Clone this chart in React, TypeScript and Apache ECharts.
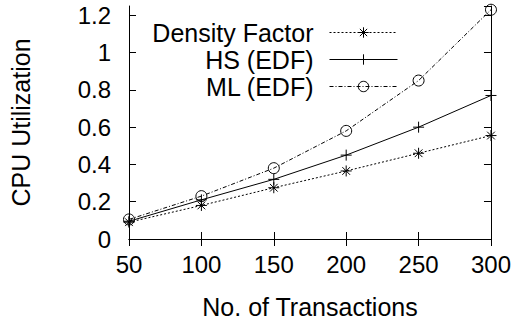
import React, { useEffect, useRef } from "react";
import * as echarts from "echarts";

const transactions = [50, 100, 150, 200, 250, 300];
const densityFactor = [0.09, 0.18, 0.275, 0.365, 0.46, 0.555];
const hsEdf = [0.095, 0.21, 0.32, 0.45, 0.6, 0.77];
const mlEdf = [0.105, 0.23, 0.38, 0.58, 0.85, 1.23];
const seriesNames = ["Density Factor", "HS (EDF)", "ML (EDF)"];

const ASTERISK = "path://M0 5L10 5M5 0L5 10M1.5 1.5L8.5 8.5M1.5 8.5L8.5 1.5";
const PLUS = "path://M0 5L10 5M5 0L5 10";
const FONT = "Liberation Sans, Arial, sans-serif";

export default function App() {
  const ref = useRef<HTMLDivElement>(null);
  useEffect(() => {
    const chart = echarts.init(ref.current!, null, { renderer: "svg" });
    const pts = (ys: number[]) => transactions.map((x, i) => [x, ys[i]]);
    const mk = (name: string, ys: number[], symbol: string, dash: any) => ({
      name,
      type: "line",
      data: pts(ys),
      symbol,
      symbolSize: 11,
      showSymbol: true,
      lineStyle: { color: "#000", width: 1, type: dash },
      itemStyle: { color: "rgba(0,0,0,0)", borderColor: "#000", borderWidth: 1 },
      emphasis: { disabled: true },
      z: 3,
    });
    const tickLabel = { color: "#000", fontFamily: FONT, fontSize: 24 };
    chart.setOption({
      animation: false,
      backgroundColor: "#fff",
      grid: { left: 128, right: 23, top: 6, bottom: 79, containLabel: false },
      legend: {
        data: seriesNames,
        orient: "vertical",
        align: "right",
        right: 116,
        top: 20,
        padding: 0,
        itemWidth: 68,
        itemHeight: 13,
        itemGap: 2,
        selectedMode: false,
        textStyle: {
          color: "#000",
          fontFamily: FONT,
          fontSize: 25,
          lineHeight: 20,
          padding: [0, 11, 0, 0],
        },
        lineStyle: { width: 1 },
        itemStyle: { borderWidth: 1 },
      },
      xAxis: [
        {
          type: "value",
          min: 50,
          max: 300,
          interval: 50,
          position: "bottom",
          name: "No. of Transactions",
          nameLocation: "middle",
          nameGap: 55,
          nameTextStyle: { color: "#000", fontFamily: FONT, fontSize: 25 },
          axisLine: { show: true, lineStyle: { color: "#000", width: 1 } },
          axisTick: { show: true, inside: true, length: 7, lineStyle: { color: "#000" } },
          axisLabel: { ...tickLabel, margin: 13 },
          splitLine: { show: false },
        },
        {
          type: "value",
          min: 50,
          max: 300,
          interval: 50,
          position: "top",
          axisLine: { show: true, lineStyle: { color: "#000", width: 1 } },
          axisTick: { show: true, inside: true, length: 7, lineStyle: { color: "#000" } },
          axisLabel: { show: false },
          splitLine: { show: false },
        },
      ],
      yAxis: [
        {
          type: "value",
          min: 0,
          max: 1.25,
          interval: 0.2,
          position: "left",
          name: "CPU Utilization",
          nameLocation: "middle",
          nameGap: 96,
          nameTextStyle: { color: "#000", fontFamily: FONT, fontSize: 25 },
          axisLine: { show: true, lineStyle: { color: "#000", width: 1 } },
          axisTick: { show: true, inside: true, length: 7, lineStyle: { color: "#000" } },
          axisLabel: { ...tickLabel, margin: 18, showMaxLabel: false },
          splitLine: { show: false },
        },
        {
          type: "value",
          min: 0,
          max: 1.25,
          interval: 0.2,
          position: "right",
          axisLine: { show: true, lineStyle: { color: "#000", width: 1 } },
          axisTick: { show: true, inside: true, length: 7, lineStyle: { color: "#000" } },
          axisLabel: { show: false },
          splitLine: { show: false },
        },
      ],
      series: [
        mk(seriesNames[0], densityFactor, ASTERISK, [2, 2]),
        mk(seriesNames[1], hsEdf, PLUS, "solid"),
        mk(seriesNames[2], mlEdf, "circle", [4, 2, 1, 2]),
      ],
    });
    return () => chart.dispose();
  }, []);
  return <div ref={ref} style={{ width: 514, height: 324, position: "absolute", left: 0, top: 0 }} />;
}
